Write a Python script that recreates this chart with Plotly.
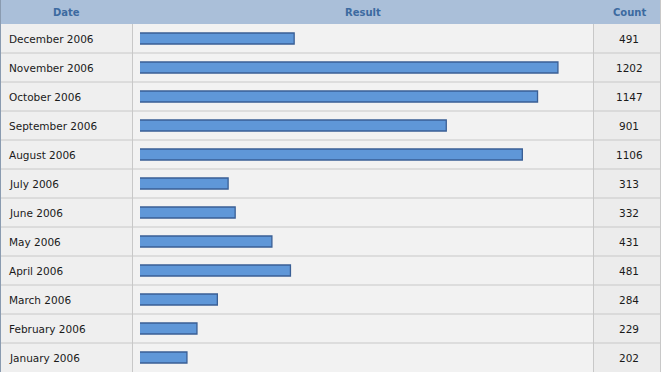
import plotly.graph_objects as go

months = ["December 2006", "November 2006", "October 2006", "September 2006",
          "August 2006", "July 2006", "June 2006", "May 2006", "April 2006",
          "March 2006", "February 2006", "January 2006"]
counts = [491, 1202, 1147, 901, 1106, 313, 332, 431, 481, 284, 229, 202]
headers = ["Date", "Result", "Count"]

W, H = 661, 372
HEAD = 24
COL1, COL2 = 132.5, 593.5
BAR_L = 140

y_top = (H - HEAD) / H
n = len(months)

fig = go.Figure()
fig.add_trace(go.Bar(
    y=list(range(n)), x=counts, orientation="h", base=0,
    width=0.38,
    marker=dict(color="#5f97d8", line=dict(color="#3a5f95", width=1.3)),
    hoverinfo="skip", showlegend=False,
))

# axis: zero at ~112px, 0.371 px per unit
px_per = 0.371
x0_px = 112
xr0 = (BAR_L - x0_px) / px_per
xr1 = xr0 + (COL2 - 1 - BAR_L) / px_per

fig.update_layout(
    width=W, height=H, margin=dict(l=0, r=0, t=0, b=0),
    paper_bgcolor="#f0f0f0", plot_bgcolor="rgba(0,0,0,0)",
    xaxis=dict(domain=[BAR_L / W, (COL2 - 1) / W], range=[xr0, xr1],
               visible=False, fixedrange=True),
    yaxis=dict(domain=[0, y_top], range=[n - 0.5, -0.5], visible=False,
               fixedrange=True),
    barmode="overlay",
    font=dict(family="DejaVu Sans", size=10, color="#1a1a1a"),
)

shapes = []
# column backgrounds
shapes.append(dict(type="rect", xref="paper", yref="paper", x0=0, x1=COL1 / W,
                   y0=0, y1=y_top, fillcolor="#efefef", line_width=0, layer="below"))
shapes.append(dict(type="rect", xref="paper", yref="paper", x0=COL1 / W, x1=COL2 / W,
                   y0=0, y1=y_top, fillcolor="#f2f2f2", line_width=0, layer="below"))
shapes.append(dict(type="rect", xref="paper", yref="paper", x0=COL2 / W, x1=1,
                   y0=0, y1=y_top, fillcolor="#ececec", line_width=0, layer="below"))
# header
shapes.append(dict(type="rect", xref="paper", yref="paper", x0=0, x1=1,
                   y0=y_top, y1=1, fillcolor="#aabfd9", line_width=0, layer="below"))
# row lines
for i in range(n - 1):
    shapes.append(dict(type="line", xref="paper", yref="y", x0=0, x1=1,
                       y0=i + 0.5, y1=i + 0.5, line=dict(color="#c8c8c8", width=1),
                       layer="below"))
# column lines
for cx in (COL1, COL2):
    shapes.append(dict(type="line", xref="paper", yref="paper", x0=cx / W, x1=cx / W,
                       y0=0, y1=y_top, line=dict(color="#c8c8c8", width=1), layer="below"))
# outer left/right borders
shapes.append(dict(type="line", xref="paper", yref="paper", x0=0.5 / W, x1=0.5 / W,
                   y0=0, y1=1, line=dict(color="#8a9bb0", width=1)))
shapes.append(dict(type="line", xref="paper", yref="paper", x0=(W - 0.5) / W, x1=(W - 0.5) / W,
                   y0=0, y1=1, line=dict(color="#c8c8c8", width=1)))
fig.update_layout(shapes=shapes)

ann = []
hx = [COL1 / 2, (COL1 + COL2) / 2, (COL2 + W) / 2 + 2]
for h, x in zip(headers, hx):
    ann.append(dict(text="<b>%s</b>" % h, xref="paper", yref="paper", x=x / W,
                    y=1 - (HEAD / 2 + 1) / H, showarrow=False, xanchor="center",
                    yanchor="middle", font=dict(color="#3c6aa0", size=10)))
for i, (m, c) in enumerate(zip(months, counts)):
    ann.append(dict(text=m, xref="paper", yref="y", x=7 / W, y=i, showarrow=False,
                    xanchor="left", yanchor="middle", font=dict(size=10.5)))
    ann.append(dict(text=str(c), xref="paper", yref="y", x=(COL2 + W) / 2 / W + 0.003,
                    y=i, showarrow=False, xanchor="center", yanchor="middle",
                    font=dict(size=10.5)))
fig.update_layout(annotations=ann)

fig.write_html("out.html", config={"displayModeBar": False, "staticPlot": True},
               post_script="document.body.style.margin='0';document.body.style.overflow='hidden';")
